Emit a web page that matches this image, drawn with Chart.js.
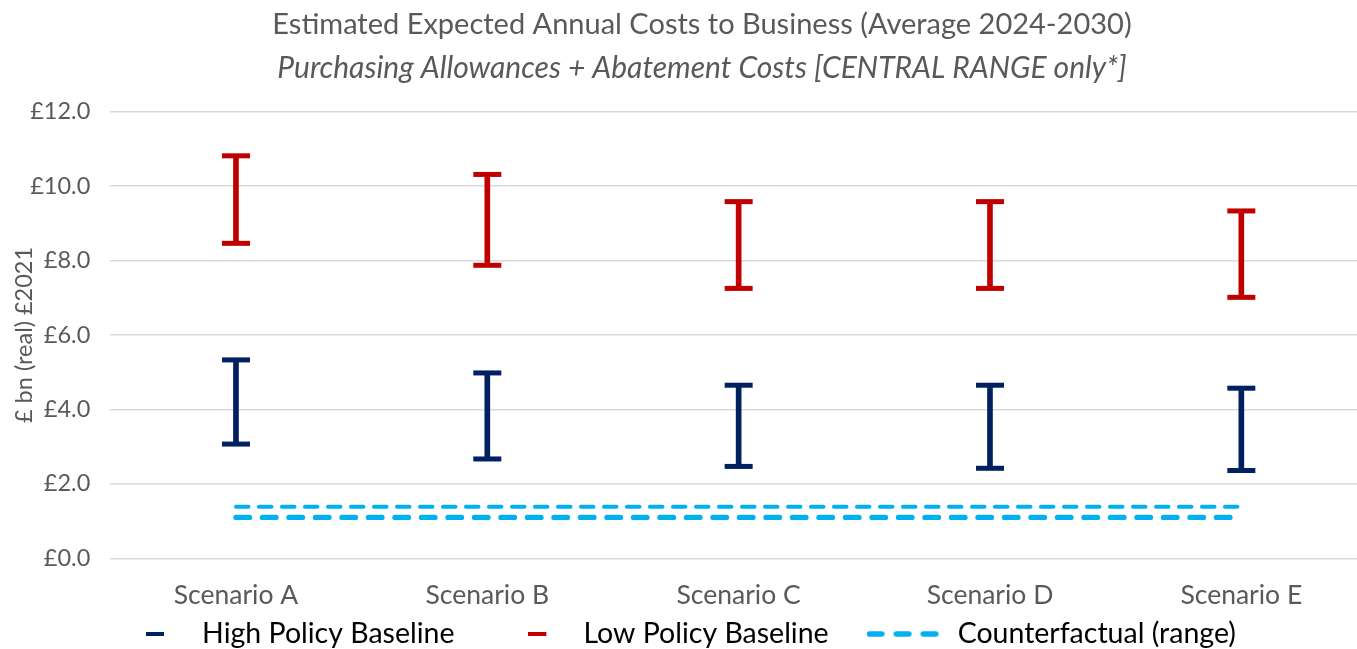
<!DOCTYPE html>
<html>
<head>
<meta charset="utf-8">
<script src="https://cdn.jsdelivr.net/npm/chart.js@4.4.1/dist/chart.umd.min.js"></script>
<style>
  html, body { margin: 0; padding: 0; overflow: hidden; background: #fff; }
  canvas { display: block; }
</style>
</head>
<body>
<canvas id="chart" width="1404" height="670"></canvas>
<script>
const scenarios = ['Scenario A', 'Scenario B', 'Scenario C', 'Scenario D', 'Scenario E'];
// High Policy Baseline range (low end, high end)
const highPolicyLow = [3.07, 2.67, 2.47, 2.42, 2.36];
const highPolicyHigh = [5.33, 4.98, 4.65, 4.65, 4.57];
// Low Policy Baseline range
const lowPolicyLow = [8.46, 7.87, 7.25, 7.25, 7.01];
const lowPolicyHigh = [10.81, 10.31, 9.58, 9.58, 9.33];
// Counterfactual (range) lines
const counterUpper = [1.39, 1.39, 1.39, 1.39, 1.39];
const counterLower = [1.10, 1.10, 1.10, 1.10, 1.10];
const yTicks = [0, 2, 4, 6, 8, 10, 12];

const BLUE = '#002060', RED = '#C00000', CYAN = '#00B0F0', GREY = '#595959';

Chart.defaults.font.family = 'Lato';
Chart.defaults.color = GREY;

// little canvases used as legend markers (drawn centred on the legend box)
function dashMarker(color, w) {
    const c = document.createElement('canvas');
    c.width = w; c.height = 4;
    const g = c.getContext('2d');
    g.fillStyle = color;
    g.fillRect(0, 0, 18, 4);
    return c;
}
function dashedLineMarker(color, w) {
    const c = document.createElement('canvas');
    c.width = w; c.height = 6;
    const g = c.getContext('2d');
    g.strokeStyle = color;
    g.lineWidth = 5.5;
    g.lineCap = 'round';
    g.setLineDash([12.5, 14.5]);
    g.beginPath();
    g.moveTo(2.75, 3);
    g.lineTo(69.25, 3);
    g.stroke();
    return c;
}

// draws the horizontal caps at both ends of each range bar
const errorCaps = {
    id: 'errorCaps',
    afterDatasetsDraw(chart) {
        const ctx = chart.ctx;
        chart.data.datasets.forEach((ds, i) => {
            if (ds.type !== 'bar') return;
            const meta = chart.getDatasetMeta(i);
            ctx.save();
            ctx.fillStyle = ds.backgroundColor;
            meta.data.forEach(bar => {
                ctx.fillRect(bar.x - 14, bar.y - 2.5, 28, 5);
                ctx.fillRect(bar.x - 14, bar.base - 2.5, 28, 5);
            });
            ctx.restore();
        });
    }
};

// wide legend padding gives the gaps between items; keep the box short
// and pull the row back up under the axis labels
const legendRow = {
    id: 'legendRow',
    beforeInit(chart) {
        const fit = chart.legend.fit;
        chart.legend.fit = function () {
            fit.call(this);
            this.height = 37.8;
        };
    },
    afterLayout(chart) {
        chart.legend.top = 634 - 14.25 - chart.options.plugins.legend.labels.padding;
    }
};

const data = {
    labels: scenarios,
    datasets: [
        {
            type: 'bar',
            label: 'High Policy Baseline',
            data: highPolicyLow.map((v, i) => [v, highPolicyHigh[i]]),
            backgroundColor: BLUE,
            barThickness: 5,
            grouped: false
        }, {
            type: 'bar',
            label: 'Low Policy Baseline',
            data: lowPolicyLow.map((v, i) => [v, lowPolicyHigh[i]]),
            backgroundColor: RED,
            barThickness: 5,
            grouped: false
        }, {
            type: 'line',
            label: 'Counterfactual (range)',
            data: counterUpper,
            borderColor: CYAN,
            borderWidth: 4,
            borderDash: [12.5, 10.5],
            borderCapStyle: 'round',
            pointRadius: 0,
            fill: false
        }, {
            type: 'line',
            label: 'Counterfactual lower',
            data: counterLower,
            borderColor: CYAN,
            borderWidth: 5.3,
            borderDash: [13.5, 13],
            borderCapStyle: 'round',
            pointRadius: 0,
            fill: false
        }
    ]
};

const legendMarkers = [dashMarker(BLUE, 64), dashMarker(RED, 62), dashedLineMarker(CYAN, 134)];

new Chart(document.getElementById('chart'), {
    data: data,
    plugins: [errorCaps, legendRow],
    options: {
        responsive: false,
        animation: false,
        devicePixelRatio: 1,
        plugins: {
            title: {
                display: true,
                text: 'Estimated Expected Annual Costs to Business (Average 2024-2030)',
                font: { size: 29, weight: 'normal' },
                color: GREY,
                padding: { top: 7, bottom: 4 }
            },
            subtitle: {
                display: true,
                text: 'Purchasing Allowances + Abatement Costs [CENTRAL RANGE only*]',
                font: { size: 30, style: 'italic' },
                color: GREY,
                padding: { top: 5, bottom: 24.7 }
            },
            legend: {
                position: 'bottom',
                labels: {
                    usePointStyle: true,
                    pointStyleWidth: 19.75,
                    padding: 95,
                    color: GREY,
                    font: { size: 28.5 },
                    generateLabels: () => legendMarkers.map((m, i) => ({
                        text: data.datasets[i].label,
                        pointStyle: m,
                        fillStyle: 'transparent',
                        strokeStyle: 'transparent',
                        lineWidth: 0,
                        hidden: false,
                        datasetIndex: i
                    }))
                }
            },
            tooltip: { enabled: false }
        },
        scales: {
            x: {
                type: 'category',
                offset: true,
                grid: { display: false, drawTicks: false },
                border: { display: false },
                ticks: { font: { size: 26.5 }, color: GREY, padding: 21 }
            },
            y: {
                min: 0,
                max: 12,
                afterBuildTicks: s => { s.ticks = yTicks.map(v => ({ value: v })); },
                ticks: {
                    font: { size: 23.5 },
                    color: GREY,
                    padding: 20,
                    callback: v => '£' + v.toFixed(1)
                },
                grid: { color: '#d9d9d9', lineWidth: 1.5, drawTicks: false },
                border: { display: false },
                title: {
                    display: true,
                    text: '£ bn (real) £2021',
                    font: { size: 23.5 },
                    color: GREY,
                    padding: { top: 10, bottom: 0 }
                },
                afterFit: s => { s.width = 110.3; }
            },
            // empty strip on the right, the plot runs past the picture's edge
            edge: {
                type: 'linear',
                position: 'right',
                display: true,
                grid: { display: false, drawTicks: false },
                border: { display: false },
                ticks: { display: false },
                afterFit: s => { s.width = 37; }
            }
        }
    }
});
</script>
</body>
</html>
